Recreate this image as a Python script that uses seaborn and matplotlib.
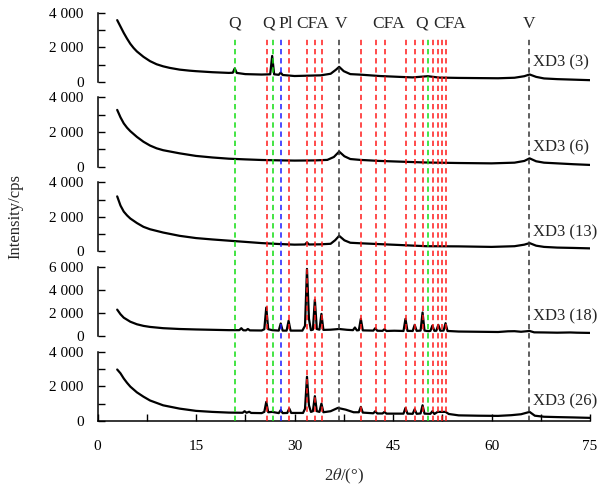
import matplotlib
matplotlib.use('Agg')
import matplotlib.pyplot as plt
import seaborn as sns
from matplotlib.ticker import FuncFormatter, MultipleLocator

# Amostras (de cima para baixo)
amostras = ['XD3 (3)', 'XD3 (6)', 'XD3 (13)', 'XD3 (18)', 'XD3 (26)']
limites_y = [4000, 4000, 4000, 6000, 4000]

# XD3 (3)
x_3 = [3, 3.5, 4, 4.5, 5, 5.5, 6, 7, 8, 9, 10, 11, 12.5, 14, 15, 17.5, 20, 20.6, 20.9, 21.2,
       22.5, 25, 26.3, 26.6, 26.9, 27.6, 27.9, 28.2, 30, 32, 34, 35.5, 36.3, 36.8, 37.5, 38.5,
       40, 43, 46, 48, 50.3, 52, 55, 58, 61, 63.5, 65, 65.8, 66.8, 68, 70, 72.5, 75]
i_3 = [3570, 3200, 2830, 2500, 2200, 1960, 1760, 1450, 1200, 1020, 900, 810, 710, 650, 620, 560, 520, 530, 780, 520,
       450, 425, 440, 1500, 440, 410, 540, 400, 340, 360, 380, 470, 700, 870, 620, 450,
       420, 340, 290, 260, 330, 250, 230, 220, 210, 240, 330, 430, 290, 200, 160, 130, 100]

# XD3 (6)
x_6 = [3, 3.5, 4, 4.5, 5, 6, 7, 8, 9, 10, 12.5, 15, 17.5, 20, 22.5, 25, 27.5, 30, 33, 35, 36, 36.8,
       37.6, 38.5, 40, 43, 46, 50, 55, 60, 63.5, 65, 65.8, 66.8, 68, 70, 72.5, 75]
i_6 = [3280, 2850, 2500, 2250, 2050, 1720, 1440, 1220, 1060, 950, 770, 620, 530, 460, 420, 385, 365, 350, 360, 390, 560, 870,
       600, 440, 390, 330, 290, 240, 210, 190, 230, 330, 480, 310, 230, 190, 140, 100]

# XD3 (13)
x_13 = [3, 3.5, 4, 4.5, 5, 6, 7, 8, 10, 12.5, 15, 17.5, 20, 22.5, 25, 27.5, 30, 31.6, 31.9, 32.2,
        34, 35.5, 36.2, 36.8, 37.6, 38.5, 40, 43, 46, 50, 55, 60, 63.5, 65, 65.8, 66.8, 68, 70, 72.5, 75]
i_13 = [3180, 2650, 2300, 2080, 1900, 1640, 1420, 1280, 1090, 900, 770, 690, 620, 550, 480, 430, 390, 400, 520, 400,
        410, 440, 650, 900, 640, 500, 470, 420, 370, 300, 290, 260, 300, 390, 480, 330, 260, 220, 200, 175]

# XD3 (18)
x_18 = [3, 3.5, 4, 5, 6, 7, 8, 10, 12.5, 15, 17.5, 20, 21.6, 21.9, 22.2, 22.6, 22.9, 23.2, 25, 25.4,
        25.7, 26.0, 26.6, 27.6, 27.9, 28.2, 28.8, 29.1, 29.4, 31.2, 31.6, 31.9, 32.2, 32.5, 32.8, 33.1,
        33.4, 33.8, 34.1, 34.4, 35.5, 36.8, 38, 38.9, 39.2, 39.5, 39.8, 40.1, 40.4, 42, 42.3, 42.6,
        43.4, 43.7, 44, 45.2, 46.6, 46.9, 47.2, 48, 48.3, 48.6, 49.2, 49.5, 49.8, 50.4, 50.7, 51.0,
        51.3, 51.6, 51.9, 52.2, 52.7, 53.0, 53.3, 55, 58, 61, 62.5, 63.5, 64.5, 65.8, 66.5, 68, 70,
        72, 73, 75]
i_18 = [2300, 1900, 1600, 1250, 1030, 890, 800, 690, 620, 580, 550, 520, 520, 690, 510, 500, 620, 500, 490, 600,
        2480, 600, 520, 480, 1100, 480, 480, 1330, 480, 480, 900, 5830, 1500, 520, 560, 3150,
        620, 560, 1930, 540, 560, 620, 550, 520, 750, 500, 520, 1500, 500, 480, 690, 470,
        460, 600, 450, 470, 450, 1500, 460, 450, 980, 460, 480, 2050, 480, 430, 460, 920,
        460, 470, 980, 470, 480, 1125, 450, 400, 380, 360, 420, 430, 380, 450, 330, 320, 300,
        320, 300, 280]

# XD3 (26)
x_26 = [3, 3.5, 4, 4.5, 5, 6, 7, 8, 10, 12.5, 15, 17.5, 20, 22.1, 22.4, 22.7, 23.1, 23.4, 25, 25.4,
        25.7, 26.0, 26.6, 27.6, 27.9, 28.2, 28.9, 29.2, 29.5, 31.3, 31.6, 31.9, 32.2, 32.5, 32.8, 33.1,
        33.4, 33.8, 34.1, 34.4, 35.5, 36.6, 37.8, 39, 39.8, 40.1, 40.4, 42, 42.3, 42.6, 43.4, 43.7,
        44, 46.6, 46.9, 47.2, 48, 48.3, 48.6, 49.2, 49.5, 49.8, 50.7, 51.0, 51.3, 51.8, 52.4, 53.0,
        53.5, 55, 58, 61, 63, 64.5, 65.8, 66.6, 68, 70, 72.5, 75]
i_26 = [2970, 2750, 2450, 2200, 1980, 1650, 1400, 1180, 900, 710, 580, 520, 480, 470, 560, 470, 530, 460, 450, 520,
        1100, 500, 520, 450, 620, 450, 460, 715, 460, 460, 700, 2550, 900, 520, 560, 1430,
        560, 520, 1000, 500, 560, 750, 650, 500, 500, 810, 480, 440, 560, 430, 430, 520,
        420, 420, 750, 420, 410, 675, 410, 430, 905, 420, 410, 560, 400, 520, 520, 520,
        400, 320, 300, 290, 330, 385, 520, 300, 240, 220, 200, 175]

dados = [(x_3, i_3), (x_6, i_6), (x_13, i_13), (x_18, i_18), (x_26, i_26)]

# Linhas de referência das fases
pos_fases = [20.98, 25.77, 26.68, 27.94, 29.21, 31.90, 33.17, 34.14, 36.82, 40.17, 42.36, 43.73,
             46.98, 48.39, 49.52, 50.28, 51.04, 51.85, 52.46, 53.07, 65.75]
nome_fases = ['Q', 'CFA', 'Q', 'Pl', 'CFA', 'CFA', 'CFA', 'CFA', 'V', 'CFA', 'CFA', 'CFA',
              'CFA', 'CFA', 'CFA', 'Q', 'CFA', 'CFA', 'CFA', 'CFA', 'V']

# Rótulos no topo
pos_rotulos = [20.9, 26.0, 28.6, 32.8, 37.1, 44.4, 49.3, 53.6, 65.7]
txt_rotulos = ['Q', 'Q', 'Pl', 'CFA', 'V', 'CFA', 'Q', 'CFA', 'V']

cores = {'Q': '#11dd11', 'CFA': '#ff1a1a', 'Pl': '#1a1aff', 'V': '#333333'}

sns.set_theme(style='ticks')
plt.rcParams['font.family'] = ['Liberation Serif', 'DejaVu Serif']
plt.rcParams['mathtext.fontset'] = 'stix'

fig = plt.figure(figsize=(6.06, 4.87), dpi=100)
W, H = 606, 487
esq, larg = 97.5 / W, 492.5 / W
topo0, passo, alt = 12.7, 84.75, 69.2

fmt = FuncFormatter(lambda v, p: f'{v:,.0f}'.replace(',', ' '))

eixos = []
for k, (nome, (xs, ys)) in enumerate(zip(amostras, dados)):
    base = 1 - (topo0 + passo * k + alt) / H
    ax = fig.add_axes([esq, base, larg, alt / H])
    sns.lineplot(x=xs, y=ys, ax=ax, color='black', lw=1.6, estimator=None)
    ax.set_xlim(0, 75)
    ax.set_ylim(0, limites_y[k])
    ax.yaxis.set_major_locator(MultipleLocator(2000))
    if limites_y[k] == 4000:
        ax.yaxis.set_minor_locator(MultipleLocator(1000))
    ax.yaxis.set_major_formatter(fmt)
    ax.tick_params(axis='y', which='both', direction='in', length=5, width=1, pad=10,
                   labelsize=11, colors='black')
    ax.text(66.3, 0.28, nome, transform=ax.get_xaxis_transform(), fontsize=12,
            ha='left', va='center')
    for s in ['top', 'right']:
        ax.spines[s].set_visible(False)
    ax.spines['left'].set_linewidth(1.1)
    ax.spines['left'].set_color('black')
    ax.set_xlabel('')
    ax.set_ylabel('')
    ax.set_facecolor('none')
    if k < len(amostras) - 1:
        ax.spines['bottom'].set_visible(False)
        ax.tick_params(axis='x', which='both', bottom=False, labelbottom=False)
    else:
        ax.spines['bottom'].set_linewidth(1.1)
        ax.spines['bottom'].set_color('black')
        ax.xaxis.set_major_locator(MultipleLocator(15))
        ax.xaxis.set_minor_locator(MultipleLocator(7.5))
        ax.tick_params(axis='x', which='both', direction='in', length=5, width=1, pad=14,
                       labelsize=11, colors='black')
        ax.set_xlabel(r'2$\it{\theta}$/(°)', fontsize=12, labelpad=10)
    eixos.append(ax)

# Eixo sobreposto para as linhas tracejadas e rótulos das fases
y_baixo = 1 - (topo0 + passo * 4 + alt) / H
y_alto = 1 - topo0 / H
ov = fig.add_axes([esq, y_baixo, larg, y_alto - y_baixo])
ov.set_xlim(0, 75)
ov.set_ylim(0, 1)
ov.axis('off')
topo_linhas = (topo0 + passo * 4 + alt - 37) / (passo * 4 + alt)
for p, f in zip(pos_fases, nome_fases):
    ov.plot([p, p], [0, topo_linhas], color=cores[f], lw=1.1, linestyle=(0, (3.5, 2.5)))
topo_txt = (topo0 + passo * 4 + alt - 24) / (passo * 4 + alt)
for p, t in zip(pos_rotulos, txt_rotulos):
    ov.text(p, topo_txt, t, ha='center', va='center', fontsize=12.5)

fig.text(15 / W, 1 - 216.7 / H, 'Intensity/cps', rotation=90, ha='center', va='center', fontsize=12)

fig.savefig('out.png', dpi=100)
